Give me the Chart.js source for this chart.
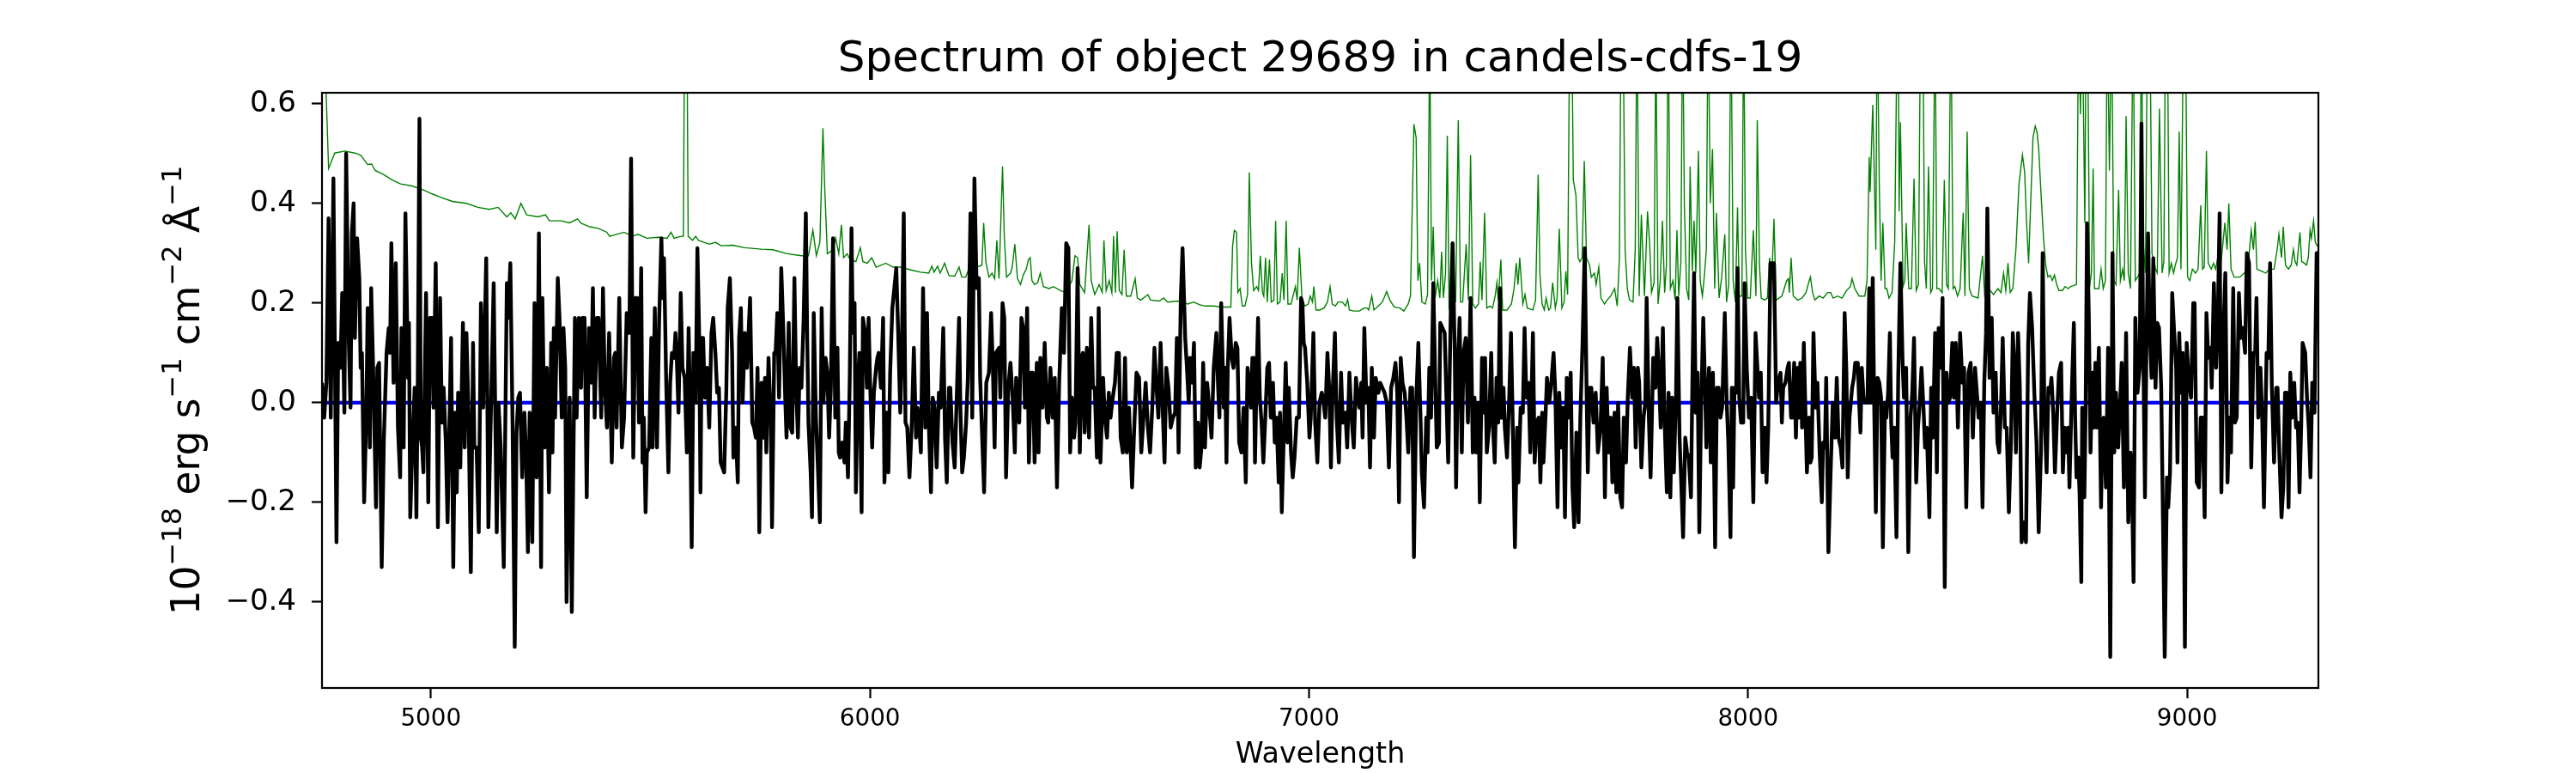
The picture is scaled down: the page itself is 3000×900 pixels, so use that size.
<!DOCTYPE html>
<html>
<head>
<meta charset="utf-8">
<script src="https://cdn.jsdelivr.net/npm/chart.js"></script>
<style>
html, body { margin: 0; padding: 0; background: #fff; }
canvas { display: block; }
</style>
</head>
<body>
<canvas id="chart" width="3000" height="900"></canvas>
<script>
// flux spectrum, [wavelength, 1e-18 erg/s/cm2/A]
const fluxSeg1 = [[4752,0.04],[4757,-0.03],[4762,0.04],[4767,0.37],[4772,-0.03],[4778,0.45],[4785,-0.28],[4789,0.12],[4794,0.07],[4798,0.22],[4803,-0.02],[4807,0.50],[4813,0.12],[4817,-0.01],[4820,0.34],[4824,0.40],[4827,0.13],[4832,0.33],[4837,0.25],[4840,0.07],[4843,0.10],[4848,-0.20],[4853,-0.02],[4856,0.19],[4861,-0.09],[4864,0.23],[4869,0.05],[4875,-0.21],[4878,0.07],[4882,0.08],[4888,-0.33],[4893,-0.07],[4899,0.10],[4904,0.15],[4907,0.10],[4910,0.32],[4915,0.04],[4920,0.28],[4925,-0.05],[4930,-0.15],[4933,0.15],[4938,-0.09],[4942,0.38],[4948,0.05],[4950,0.16],[4953,-0.23],[4957,-0.11],[4963,0.03],[4967,-0.23],[4970,0.03],[4974,0.57],[4977,-0.07],[4980,-0.09],[4983,-0.14],[4989,0.22],[4994,-0.20],[4998,0.17],[5003,0.17],[5006,-0.01],[5011,0.28],[5016,-0.25],[5021,0.21],[5025,-0.04],[5029,0.03],[5034,-0.08],[5038,-0.24],[5046,0.13],[5051,-0.33],[5055,-0.02],[5059,-0.18],[5062,0.02],[5067,-0.13],[5073,0.16],[5077,-0.09],[5081,0.14],[5086,-0.03],[5091,-0.34],[5096,0.12],[5099,-0.09],[5104,-0.09],[5109,-0.26],[5114,0.20],[5119,-0.01],[5126,0.29],[5131,-0.25],[5137,-0.01],[5143,0.24],[5150,-0.26],[5154,0.00],[5159,-0.09],[5166,-0.33],[5173,0.24],[5176,0.17],[5181,0.28],[5186,-0.04],[5191,-0.49],[5195,-0.06],[5199,0.01],[5203,0.02],[5208,-0.15],[5213,-0.02],[5217,-0.11],[5221,-0.30],[5225,-0.02],[5231,-0.28],[5236,0.20],[5241,-0.15],[5246,0.34],[5251,-0.33],[5254,0.21],[5259,-0.09],[5264,0.07],[5269,-0.18],[5274,0.12],[5277,-0.10],[5280,0.15],[5283,-0.03],[5289,0.25],[5293,0.17],[5298,-0.03],[5302,0.15],[5306,0.07],[5309,-0.40],[5316,0.01],[5321,-0.42],[5328,0.17],[5332,-0.03],[5337,0.17],[5342,0.03],[5345,0.17],[5350,0.17],[5355,-0.19],[5360,0.15],[5365,0.04],[5369,0.23],[5373,-0.03],[5378,0.17],[5382,0.17],[5388,-0.03],[5392,0.23],[5396,0.04],[5401,-0.05],[5406,0.14]];
const fluxSeg2 = [[5412,-0.12],[5417,0.09],[5420,0.10],[5423,-0.05],[5429,0.21],[5435,-0.09],[5440,-0.03],[5446,0.18],[5452,0.14],[5456,0.49],[5461,-0.11],[5466,0.21],[5470,0.21],[5474,-0.04],[5479,0.27],[5482,-0.12],[5485,-0.03],[5489,-0.22],[5492,-0.10],[5497,-0.09],[5502,0.13],[5505,-0.09],[5510,0.19],[5515,-0.09],[5520,0.17],[5525,0.33],[5528,0.21],[5531,0.29],[5536,0.04],[5541,-0.14],[5545,0.04],[5549,0.10],[5554,0.09],[5557,0.14],[5560,0.09],[5564,-0.02],[5569,0.22],[5573,0.07],[5578,0.05],[5583,-0.10],[5587,0.15],[5590,0.01],[5594,-0.29],[5598,0.10],[5603,0.00],[5607,0.31],[5611,0.14],[5614,-0.18],[5617,0.13],[5620,0.13],[5624,0.01],[5629,0.07],[5634,-0.05],[5639,0.14],[5643,0.17],[5648,0.10],[5652,0.02],[5656,0.03],[5660,-0.12],[5664,-0.13],[5668,-0.14],[5673,0.03],[5676,0.19],[5681,0.25],[5686,0.10],[5689,-0.11],[5694,-0.05],[5699,-0.16],[5702,0.13],[5706,0.19],[5710,0.00],[5715,0.14],[5720,0.07],[5727,0.21],[5732,-0.04],[5736,-0.05],[5740,-0.07],[5744,0.07],[5748,-0.26],[5753,0.04],[5757,-0.07],[5761,0.05],[5764,-0.10],[5769,0.09],[5774,-0.03],[5777,-0.25],[5782,0.10],[5785,0.10],[5789,0.18],[5793,0.01],[5798,0.27],[5803,0.14],[5807,0.01],[5810,-0.07],[5815,0.16],[5819,-0.05],[5823,-0.06],[5828,0.25],[5832,0.03],[5836,-0.07],[5840,0.07],[5844,0.03],[5849,0.17],[5854,0.38],[5857,0.14],[5860,-0.04],[5865,-0.14],[5868,-0.23],[5872,0.18],[5877,-0.03],[5881,-0.12],[5886,-0.24],[5890,0.19],[5894,0.00],[5899,0.09],[5903,0.06],[5907,-0.07],[5911,0.03],[5916,0.33],[5921,-0.03],[5926,0.11],[5929,-0.10],[5932,-0.11],[5937,-0.08],[5942,-0.12],[5945,-0.04],[5950,-0.15],[5954,0.05],[5958,0.35],[5961,0.14],[5965,0.20],[5968,-0.18],[5972,0.03],[5976,0.10],[5981,-0.22],[5984,0.17],[5989,0.14],[5993,0.03],[5997,0.17],[6000,0.05],[6005,-0.09],[6009,0.02],[6014,0.07],[6017,0.09],[6020,0.10],[6025,0.03],[6030,0.17],[6033,-0.16],[6038,-0.02],[6042,-0.14],[6046,0.06],[6051,0.19]];
const fluxSeg3 = [[6060,0.27],[6064,0.15],[6069,-0.02],[6072,0.07],[6077,0.38],[6081,-0.04],[6085,-0.05],[6090,-0.15],[6095,-0.05],[6100,0.11],[6105,-0.07],[6108,-0.01],[6111,-0.03],[6116,-0.10],[6121,0.23],[6126,-0.05],[6130,0.18],[6134,-0.04],[6139,-0.18],[6143,0.01],[6147,-0.01],[6152,-0.13],[6157,0.02],[6161,-0.01],[6167,0.15],[6171,-0.07],[6175,-0.16],[6180,0.03],[6183,0.03],[6188,-0.08],[6193,-0.13],[6197,-0.01],[6203,0.17],[6206,-0.01],[6210,-0.14],[6214,-0.11],[6219,-0.04],[6223,0.05],[6229,0.38],[6233,-0.03],[6238,0.45],[6243,0.23],[6248,0.25],[6251,0.05],[6256,-0.08],[6260,-0.18],[6265,0.04],[6271,0.06],[6276,0.18],[6280,0.07],[6284,-0.09],[6287,0.10],[6294,0.11],[6297,0.01],[6302,0.20],[6306,0.17],[6310,-0.15],[6315,0.03],[6320,0.08],[6325,0.01],[6330,-0.10],[6333,0.05],[6336,-0.01],[6340,-0.04],[6345,0.17],[6349,0.15],[6353,-0.01],[6358,0.19],[6362,-0.12],[6367,0.06],[6371,0.06],[6375,-0.12],[6380,0.08],[6384,-0.10],[6388,0.09],[6393,-0.01],[6398,0.12],[6403,-0.03],[6406,-0.04],[6411,0.07],[6416,-0.03],[6421,0.05],[6426,-0.17],[6431,0.04],[6437,0.19],[6442,0.10],[6447,0.32],[6452,0.31],[6456,-0.10],[6460,0.01],[6465,-0.07],[6468,-0.04],[6473,0.27],[6478,-0.10],[6482,0.09],[6485,0.10],[6489,-0.06],[6494,0.11],[6499,-0.07],[6504,0.17],[6508,0.03],[6512,0.03],[6517,-0.11],[6521,0.19],[6525,-0.12],[6531,0.05],[6535,-0.03],[6540,-0.07],[6544,0.02],[6548,-0.03],[6553,0.01],[6558,0.04],[6562,0.10],[6567,0.10],[6571,-0.07],[6576,-0.10],[6581,0.09],[6585,-0.10],[6590,-0.01],[6597,-0.17],[6602,-0.05],[6607,0.06],[6613,0.05],[6618,-0.10],[6623,-0.03],[6628,0.04],[6633,-0.05],[6638,-0.10],[6643,-0.01],[6648,0.11],[6652,0.04],[6657,-0.03],[6662,0.12],[6667,-0.02],[6671,-0.12],[6675,0.07],[6680,0.03],[6685,-0.05],[6690,-0.03],[6695,-0.02],[6699,0.13],[6703,-0.10],[6708,0.21]];
const fluxSeg4 = [[6712,0.31],[6718,0.13],[6722,0.07],[6726,0.00],[6729,0.09],[6734,0.04],[6738,0.12],[6742,-0.13],[6747,-0.04],[6751,-0.13],[6755,-0.09],[6759,0.08],[6763,-0.09],[6768,0.04],[6773,-0.01],[6778,-0.07],[6783,0.07],[6789,0.14],[6793,0.03],[6796,-0.03],[6800,0.20],[6806,-0.01],[6809,0.07],[6812,-0.12],[6815,0.07],[6819,0.17],[6824,0.09],[6828,0.07],[6833,0.12],[6837,0.11],[6841,-0.08],[6846,-0.10],[6851,-0.01],[6856,-0.16],[6860,0.07],[6864,0.04],[6868,-0.01],[6871,0.09],[6874,0.09],[6877,-0.12],[6881,0.07],[6884,0.17],[6888,0.01],[6892,-0.04],[6896,-0.12],[6900,-0.04],[6905,0.07],[6909,0.08],[6913,-0.03],[6918,0.04],[6922,-0.08],[6926,-0.03],[6931,-0.16],[6934,-0.02],[6938,-0.22],[6943,-0.05],[6947,0.08],[6951,-0.08],[6954,0.03],[6959,-0.10],[6963,-0.15],[6967,-0.11],[6972,-0.03],[6977,-0.03],[6982,0.21],[6985,0.20],[6988,0.12],[6991,0.11],[6996,0.04],[7001,-0.07],[7004,-0.03],[7010,0.14],[7014,-0.04],[7019,-0.12],[7024,0.00],[7029,0.02],[7032,0.01],[7037,-0.03],[7042,0.10],[7046,0.03],[7050,-0.13],[7053,0.00],[7059,0.14],[7063,-0.03],[7068,-0.12],[7073,0.06],[7077,-0.04],[7083,-0.02],[7087,-0.09],[7092,0.06],[7097,-0.03],[7102,-0.09],[7107,0.05],[7111,0.01],[7115,-0.01],[7119,0.04],[7122,-0.07],[7126,0.15],[7131,0.00],[7135,0.03],[7139,-0.13],[7143,0.07],[7148,-0.07],[7152,0.05],[7158,0.02],[7162,0.04],[7167,0.03],[7172,0.02],[7177,0.00],[7182,-0.13],[7187,0.03],[7192,0.05],[7197,0.08],[7201,0.02],[7205,-0.20],[7209,0.09],[7213,0.04],[7218,0.02],[7222,-0.03],[7226,-0.10],[7231,0.03],[7235,0.03],[7239,-0.31],[7244,0.00],[7249,0.12],[7254,-0.03],[7257,-0.14],[7262,-0.21],[7267,-0.03],[7270,-0.10],[7274,0.07],[7278,-0.03],[7283,0.24],[7287,0.07],[7291,-0.09],[7296,-0.08],[7299,0.16],[7304,0.15],[7309,0.14],[7313,0.01],[7317,-0.12],[7323,0.19],[7327,0.32],[7332,0.10],[7335,-0.17],[7339,0.07],[7343,0.17],[7348,-0.10],[7352,0.10],[7357,0.13],[7362,-0.04]];
const fluxSeg5 = [[7368,0.21],[7373,-0.10],[7377,0.01],[7381,-0.10],[7386,0.00],[7389,-0.20],[7394,0.09],[7398,-0.02],[7401,0.09],[7405,-0.10],[7410,-0.05],[7415,0.10],[7418,-0.03],[7423,-0.12],[7427,0.05],[7431,-0.04],[7435,0.23],[7438,-0.03],[7443,0.03],[7446,-0.05],[7451,-0.11],[7456,0.01],[7460,0.14],[7464,-0.04],[7469,-0.29],[7474,-0.05],[7477,-0.16],[7482,-0.01],[7487,-0.02],[7491,0.15],[7495,0.01],[7500,0.04],[7504,-0.10],[7510,0.14],[7514,-0.12],[7518,-0.04],[7523,-0.03],[7527,-0.16],[7531,-0.02],[7534,-0.12],[7539,-0.02],[7542,0.05],[7547,0.00],[7551,0.03],[7557,0.10],[7561,0.02],[7566,-0.21],[7570,0.02],[7575,-0.09],[7579,-0.01],[7583,-0.23],[7587,0.05],[7591,-0.03],[7596,0.06],[7600,-0.17],[7604,-0.25],[7609,-0.06],[7614,-0.24],[7618,-0.03],[7623,0.12],[7628,0.31],[7632,0.04],[7635,-0.14],[7639,0.03],[7643,0.03],[7648,-0.04],[7653,0.02],[7658,-0.10],[7664,-0.05],[7669,0.09],[7674,-0.19],[7678,0.03],[7682,-0.10],[7687,-0.03],[7691,-0.16],[7696,-0.02],[7700,-0.18],[7704,0.00],[7709,-0.19],[7713,-0.21],[7717,-0.03],[7722,-0.12],[7726,0.01],[7731,0.11],[7736,0.01],[7740,0.07],[7744,-0.09],[7749,0.07],[7752,0.04],[7757,-0.13],[7762,-0.03],[7766,0.00],[7769,0.21],[7774,-0.03],[7778,-0.15],[7784,0.09],[7789,0.03],[7793,0.13],[7797,0.06],[7801,-0.05],[7806,0.15],[7810,-0.04],[7815,-0.18],[7819,0.02],[7823,-0.19],[7827,0.01],[7831,-0.14],[7836,0.02],[7839,0.21],[7844,-0.07],[7847,-0.14],[7852,-0.27],[7857,-0.07],[7861,-0.10],[7865,-0.11],[7870,-0.19],[7873,0.03],[7877,0.26],[7881,-0.02],[7885,0.06],[7889,-0.26],[7893,-0.01],[7898,0.17],[7902,0.03],[7905,-0.09],[7911,0.07],[7915,-0.12],[7920,0.06],[7925,-0.29],[7929,0.03],[7933,0.03],[7937,-0.03],[7941,-0.01],[7947,0.18],[7951,0.01],[7955,-0.08],[7960,-0.27],[7963,0.03],[7966,-0.17],[7969,0.03],[7973,0.02],[7976,0.27],[7980,0.01],[7984,-0.04],[7989,-0.04],[7992,0.24],[7997,0.07],[8002,-0.03],[8007,0.01],[8012,-0.20],[8017,0.14]];
const fluxSeg6 = [[8025,0.01],[8029,0.06],[8033,-0.14],[8038,-0.05],[8042,-0.16],[8046,-0.05],[8051,0.28],[8055,0.28],[8059,0.28],[8064,0.00],[8068,0.04],[8074,0.06],[8077,-0.04],[8080,0.03],[8085,0.04],[8090,0.07],[8093,0.08],[8098,-0.03],[8101,-0.03],[8105,0.08],[8109,-0.07],[8113,0.07],[8116,-0.03],[8119,0.08],[8123,-0.05],[8127,0.12],[8131,-0.03],[8134,-0.14],[8139,-0.03],[8142,-0.12],[8145,-0.11],[8149,0.14],[8154,-0.01],[8158,0.04],[8163,-0.10],[8168,-0.20],[8171,-0.08],[8175,-0.09],[8178,0.05],[8183,-0.30],[8188,-0.14],[8193,0.00],[8198,-0.07],[8202,0.05],[8206,-0.07],[8211,-0.09],[8215,-0.13],[8220,0.18],[8224,0.06],[8227,-0.15],[8231,-0.03],[8237,0.03],[8241,0.05],[8244,0.08],[8250,0.08],[8253,0.00],[8256,-0.06],[8259,0.07],[8263,0.01],[8267,0.00],[8272,0.00],[8276,0.23],[8280,0.00],[8284,0.25],[8287,0.01],[8291,-0.22],[8295,0.05],[8299,0.04],[8303,0.01],[8307,-0.29],[8312,0.00],[8315,-0.03],[8319,0.02],[8323,0.14],[8326,-0.04],[8329,-0.11],[8333,-0.05],[8338,-0.27],[8342,0.05],[8347,0.28],[8352,0.08],[8355,0.01],[8360,0.07],[8365,-0.30],[8370,-0.03],[8374,0.02],[8378,0.13],[8383,-0.16],[8387,-0.05],[8391,0.00],[8395,0.07],[8400,-0.02],[8403,-0.09],[8407,-0.05],[8413,-0.23],[8417,0.03],[8421,-0.07],[8426,0.14],[8430,-0.14],[8434,0.15],[8439,0.07],[8443,0.21],[8448,-0.37],[8452,0.06],[8456,0.00],[8460,0.01],[8465,0.12],[8469,0.01],[8473,0.12],[8478,-0.05],[8483,0.14],[8488,0.04],[8492,0.07],[8497,-0.21],[8502,0.06],[8507,0.08],[8512,-0.07],[8517,0.07],[8522,0.01],[8525,-0.03],[8530,0.00],[8534,-0.21],[8538,0.04],[8542,0.14],[8545,0.39],[8550,0.05],[8555,0.17],[8559,-0.02],[8564,0.06],[8568,-0.08],[8572,-0.10],[8576,-0.01],[8580,0.13],[8585,-0.05],[8589,-0.05],[8594,-0.22],[8599,-0.07],[8603,0.14],[8607,0.07],[8610,-0.10],[8615,0.14],[8619,0.03],[8623,-0.28],[8628,-0.24],[8633,-0.28],[8638,0.12],[8642,0.22],[8647,0.15],[8652,0.02],[8657,-0.08],[8662,-0.26],[8667,-0.10],[8671,0.30]];
const fluxSeg7 = [[8675,-0.02],[8680,-0.14],[8684,0.03],[8688,0.02],[8691,0.05],[8695,-0.02],[8699,-0.14],[8704,-0.02],[8708,0.06],[8713,0.08],[8717,-0.14],[8721,-0.05],[8726,-0.10],[8729,-0.05],[8732,-0.17],[8737,0.01],[8742,0.16],[8745,-0.03],[8748,-0.15],[8752,-0.11],[8755,-0.18],[8759,-0.36],[8761,-0.01],[8766,-0.19],[8769,0.00],[8772,0.36],[8776,0.18],[8780,-0.10],[8784,0.06],[8787,-0.05],[8791,0.08],[8794,-0.05],[8799,0.11],[8804,-0.21],[8807,-0.04],[8810,-0.03],[8815,-0.17],[8820,0.11],[8825,-0.51],[8830,0.30],[8834,-0.10],[8838,0.02],[8843,-0.09],[8846,-0.03],[8851,0.08],[8856,-0.17],[8861,0.14],[8866,-0.24],[8871,-0.10],[8874,-0.15],[8878,-0.36],[8882,0.17],[8887,0.02],[8892,0.07],[8896,0.56],[8900,0.12],[8904,-0.19],[8907,0.09],[8911,0.34],[8915,0.14],[8919,0.05],[8923,0.29],[8928,0.03],[8932,0.16],[8936,0.15],[8941,0.03],[8944,-0.17],[8949,-0.51],[8954,-0.15],[8957,-0.21],[8961,-0.14],[8966,0.22],[8970,0.15],[8975,0.07],[8978,-0.12],[8982,0.14],[8986,0.02],[8990,0.10],[8995,-0.49],[8999,0.12],[9004,0.04],[9009,0.01],[9014,0.20],[9017,0.20],[9022,-0.16],[9027,-0.17],[9031,-0.03],[9035,-0.03],[9040,-0.23],[9044,0.18],[9048,0.09],[9053,0.11],[9056,0.03],[9061,0.24],[9066,0.07],[9070,0.17],[9074,0.38],[9078,-0.18],[9083,0.15],[9087,0.26],[9092,-0.16],[9096,-0.03],[9100,-0.10],[9105,0.23],[9109,-0.04],[9113,-0.03],[9118,0.22],[9122,0.13],[9127,0.15],[9132,0.10],[9136,0.30],[9141,0.28],[9146,-0.13],[9151,0.10],[9155,0.10],[9158,0.21],[9162,-0.03],[9167,0.07],[9171,-0.03],[9175,-0.21],[9181,0.10],[9185,0.09],[9189,0.28],[9193,0.03],[9198,-0.12],[9203,0.03],[9206,0.03],[9210,-0.10],[9215,-0.23],[9219,-0.17],[9223,0.02],[9227,0.02],[9231,-0.21],[9235,0.06],[9239,-0.03],[9244,0.04],[9248,-0.05],[9252,-0.04],[9256,-0.18],[9260,-0.04],[9263,0.12],[9269,0.10],[9273,0.01],[9277,-0.05],[9281,-0.15],[9285,0.04],[9290,-0.02],[9295,0.30],[9299,0.30]];

// noise (green) spectrum; sky-line peaks above the frame are clipped
const noiseSeg1 = [[4752,0.75],[4760,0.66],[4767,0.470],[4781,0.501],[4804,0.505],[4827,0.501],[4840,0.497],[4856,0.478],[4865,0.479],[4873,0.466],[4892,0.458],[4912,0.447],[4931,0.439],[4957,0.435],[4983,0.427],[5003,0.419],[5023,0.412],[5049,0.404],[5081,0.400],[5107,0.392],[5133,0.388],[5153,0.392],[5173,0.373],[5182,0.381],[5192,0.369],[5205,0.400],[5218,0.377],[5244,0.373],[5261,0.377],[5270,0.365],[5296,0.365],[5316,0.361],[5334,0.369],[5342,0.360],[5362,0.353],[5381,0.350],[5401,0.342]];
const noiseSeg2 = [[5407,0.334],[5440,0.342],[5459,0.334],[5472,0.338],[5492,0.330],[5518,0.332],[5538,0.330],[5547,0.342],[5554,0.330],[5570,0.334],[5575,0.334],[5578,0.8],[5583,0.8],[5586,0.334],[5596,0.326],[5603,0.334],[5609,0.326],[5622,0.322],[5635,0.318],[5648,0.322],[5661,0.315],[5688,0.316],[5714,0.311],[5753,0.308],[5779,0.307],[5811,0.299],[5844,0.295],[5860,0.295],[5870,0.346],[5878,0.295],[5886,0.322],[5893,0.551],[5897,0.431],[5903,0.299],[5916,0.307],[5922,0.330],[5929,0.299],[5935,0.357],[5940,0.291],[5948,0.299],[5955,0.287],[5968,0.283],[5978,0.311],[5984,0.283],[5994,0.280],[6004,0.291],[6014,0.272],[6036,0.280],[6053,0.272]];
const noiseSeg3 = [[6069,0.272],[6095,0.266],[6115,0.262],[6134,0.260],[6141,0.274],[6146,0.262],[6154,0.274],[6160,0.260],[6170,0.280],[6180,0.255],[6193,0.254],[6203,0.272],[6209,0.252],[6218,0.252],[6225,0.268],[6238,0.270],[6255,0.276],[6259,0.361],[6264,0.283],[6271,0.252],[6278,0.260],[6284,0.249],[6289,0.326],[6294,0.249],[6302,0.474],[6306,0.334],[6311,0.252],[6320,0.260],[6324,0.272],[6330,0.318],[6336,0.249],[6343,0.237],[6349,0.256],[6356,0.268],[6361,0.287],[6365,0.291],[6369,0.245],[6375,0.237],[6382,0.241],[6388,0.260],[6395,0.233],[6408,0.229],[6418,0.233],[6434,0.225],[6447,0.221],[6460,0.245],[6467,0.295],[6473,0.291],[6478,0.237],[6489,0.221],[6499,0.357],[6504,0.245],[6512,0.217],[6522,0.237],[6529,0.221],[6533,0.326],[6538,0.225],[6545,0.245],[6551,0.221],[6555,0.334],[6559,0.221],[6563,0.344],[6568,0.225],[6574,0.217],[6579,0.307],[6584,0.214],[6594,0.214],[6604,0.249],[6609,0.210],[6617,0.206],[6633,0.217],[6639,0.206],[6659,0.204],[6669,0.210],[6678,0.202],[6701,0.204]];
const noiseSeg4 = [[6711,0.202],[6724,0.198],[6737,0.202],[6750,0.197],[6763,0.194],[6783,0.194],[6799,0.192],[6822,0.192],[6826,0.315],[6830,0.346],[6835,0.342],[6838,0.221],[6843,0.229],[6848,0.194],[6854,0.194],[6860,0.217],[6864,0.462],[6869,0.280],[6874,0.225],[6881,0.233],[6885,0.225],[6889,0.295],[6894,0.221],[6897,0.214],[6901,0.291],[6905,0.202],[6910,0.287],[6914,0.202],[6920,0.206],[6924,0.365],[6928,0.198],[6934,0.202],[6939,0.260],[6943,0.206],[6948,0.365],[6952,0.198],[6959,0.198],[6969,0.233],[6973,0.206],[6978,0.311],[6984,0.210],[6990,0.194],[6998,0.198],[7003,0.214],[7008,0.202],[7011,0.233],[7016,0.186],[7024,0.186],[7034,0.190],[7042,0.202],[7048,0.233],[7053,0.198],[7060,0.194],[7066,0.202],[7076,0.202],[7083,0.194],[7088,0.207],[7092,0.186],[7102,0.184],[7115,0.184],[7125,0.190],[7132,0.190],[7136,0.186],[7143,0.214],[7148,0.186],[7158,0.194],[7167,0.202],[7177,0.223],[7184,0.206],[7194,0.192],[7207,0.190],[7216,0.184],[7226,0.198],[7231,0.214],[7239,0.559],[7244,0.532],[7248,0.245],[7252,0.280],[7257,0.202],[7265,0.198],[7270,0.217],[7275,0.75],[7279,0.245],[7283,0.353],[7287,0.210],[7293,0.245],[7298,0.210],[7302,0.303],[7306,0.210],[7311,0.260],[7315,0.536],[7319,0.190],[7324,0.198],[7334,0.202],[7340,0.567],[7345,0.202],[7350,0.202],[7358,0.318],[7363,0.206]];
const noiseSeg5 = [[7368,0.497],[7373,0.198],[7379,0.190],[7386,0.198],[7390,0.283],[7394,0.206],[7400,0.381],[7405,0.190],[7412,0.194],[7418,0.190],[7424,0.214],[7428,0.241],[7431,0.206],[7437,0.287],[7441,0.186],[7451,0.186],[7461,0.198],[7467,0.229],[7472,0.280],[7476,0.237],[7480,0.291],[7487,0.198],[7492,0.217],[7497,0.190],[7510,0.186],[7516,0.206],[7522,0.458],[7526,0.256],[7531,0.198],[7536,0.186],[7540,0.210],[7546,0.186],[7550,0.190],[7555,0.241],[7561,0.190],[7565,0.210],[7570,0.349],[7576,0.190],[7581,0.202],[7585,0.264],[7589,0.217],[7594,0.8],[7598,0.8],[7602,0.447],[7608,0.416],[7613,0.291],[7617,0.283],[7622,0.291],[7627,0.485],[7632,0.291],[7639,0.276],[7643,0.252],[7650,0.260],[7654,0.237],[7660,0.272],[7665,0.210],[7673,0.198],[7679,0.206],[7687,0.214],[7696,0.229],[7702,0.194],[7707,0.291],[7711,0.8],[7715,0.8],[7720,0.307],[7725,0.229],[7730,0.206],[7738,0.202],[7743,0.307],[7747,0.8],[7752,0.214],[7757,0.377],[7764,0.214],[7771,0.384],[7776,0.318],[7780,0.221],[7786,0.241],[7790,0.75],[7795,0.198],[7800,0.245],[7805,0.365],[7810,0.221],[7814,0.276],[7818,0.8],[7823,0.229],[7829,0.245],[7834,0.206],[7838,0.346],[7842,0.214],[7847,0.283],[7851,0.8],[7855,0.392],[7860,0.229],[7865,0.206],[7868,0.474],[7873,0.264],[7877,0.365],[7881,0.260],[7887,0.505],[7891,0.245],[7896,0.214],[7901,0.260],[7905,0.307],[7909,0.8],[7914,0.400],[7919,0.509],[7924,0.229],[7928,0.381],[7934,0.210],[7940,0.252],[7947,0.338],[7951,0.202],[7956,0.237],[7961,0.8],[7966,0.245],[7971,0.202],[7976,0.392],[7980,0.214],[7986,0.214],[7990,0.8],[7994,0.307],[7999,0.210],[8005,0.210],[8012,0.346],[8018,0.214]];
const noiseSeg6 = [[8021,0.567],[8026,0.276],[8030,0.210],[8038,0.206],[8044,0.210],[8049,0.291],[8054,0.245],[8059,0.369],[8064,0.206],[8077,0.214],[8088,0.245],[8092,0.249],[8094,0.221],[8098,0.291],[8103,0.214],[8113,0.206],[8123,0.210],[8132,0.221],[8138,0.241],[8142,0.252],[8147,0.221],[8152,0.206],[8162,0.214],[8171,0.210],[8181,0.221],[8188,0.221],[8194,0.210],[8204,0.214],[8214,0.210],[8224,0.225],[8233,0.233],[8237,0.249],[8243,0.229],[8253,0.214],[8266,0.214],[8271,0.245],[8276,0.493],[8278,0.423],[8284,0.598],[8287,0.478],[8291,0.307],[8294,0.8],[8299,0.431],[8303,0.245],[8307,0.361],[8312,0.229],[8316,0.229],[8321,0.210],[8328,0.221],[8334,0.322],[8340,0.8],[8342,0.8],[8344,0.384],[8347,0.563],[8353,0.233],[8357,0.245],[8360,0.361],[8366,0.229],[8372,0.229],[8378,0.450],[8383,0.225],[8388,0.237],[8393,0.8],[8398,0.8],[8402,0.283],[8406,0.229],[8411,0.474],[8416,0.221],[8420,0.229],[8426,0.8],[8430,0.229],[8435,0.229],[8442,0.221],[8447,0.447],[8452,0.237],[8456,0.229],[8462,0.8],[8467,0.229],[8471,0.233],[8477,0.214],[8483,0.229],[8490,0.381],[8494,0.214],[8499,0.544],[8504,0.229],[8510,0.214],[8524,0.210],[8534,0.295],[8539,0.214],[8548,0.229],[8559,0.217],[8569,0.229],[8576,0.221],[8582,0.260],[8587,0.225],[8592,0.280],[8597,0.221],[8603,0.229],[8610,0.307],[8617,0.439],[8625,0.497],[8630,0.462],[8634,0.369],[8639,0.280],[8644,0.408],[8649,0.532],[8654,0.555],[8658,0.544],[8662,0.509],[8667,0.423],[8673,0.330]];
const noiseSeg7 = [[8678,0.276],[8683,0.252],[8688,0.256],[8693,0.245],[8698,0.256],[8703,0.237],[8708,0.225],[8716,0.225],[8722,0.233],[8729,0.229],[8735,0.233],[8748,0.237],[8753,0.8],[8757,0.579],[8761,0.8],[8767,0.361],[8770,0.8],[8773,0.8],[8778,0.233],[8782,0.260],[8786,0.470],[8789,0.229],[8799,0.229],[8804,0.268],[8809,0.229],[8814,0.245],[8818,0.8],[8823,0.466],[8828,0.8],[8833,0.245],[8838,0.237],[8844,0.427],[8848,0.245],[8853,0.268],[8857,0.245],[8861,0.575],[8866,0.260],[8871,0.229],[8877,0.8],[8882,0.245],[8887,0.252],[8892,0.260],[8896,0.8],[8900,0.322],[8905,0.260],[8910,0.8],[8915,0.8],[8920,0.299],[8924,0.287],[8928,0.268],[8932,0.260],[8937,0.590],[8943,0.260],[8947,0.283],[8951,0.8],[8955,0.8],[8959,0.260],[8964,0.280],[8969,0.260],[8973,0.276],[8978,0.291],[8982,0.544],[8986,0.268],[8992,0.8],[8996,0.8],[9001,0.252],[9006,0.245],[9012,0.268],[9019,0.260],[9025,0.268],[9031,0.396],[9035,0.268],[9039,0.272],[9044,0.505],[9048,0.280],[9055,0.268],[9060,0.280],[9065,0.268],[9068,0.283],[9074,0.256],[9081,0.315],[9086,0.361],[9091,0.307],[9095,0.400],[9100,0.268],[9107,0.252],[9120,0.252],[9130,0.260],[9138,0.268],[9146,0.346],[9151,0.307],[9155,0.363],[9159,0.268],[9169,0.264],[9179,0.260],[9188,0.268],[9198,0.268],[9205,0.307],[9209,0.338],[9215,0.291],[9219,0.353],[9224,0.276],[9231,0.268],[9237,0.276],[9242,0.307],[9246,0.283],[9250,0.276],[9257,0.342],[9261,0.283],[9267,0.280],[9272,0.276],[9276,0.291],[9280,0.346],[9283,0.330],[9288,0.365],[9292,0.322],[9296,0.315],[9299,0.315]];

// zero level
const zeroWave = [4752, 9299];
const zeroFlux = [0, 0];

const xTicks = [5000, 6000, 7000, 8000, 9000];
const yTicks = [-0.4, -0.2, 0.0, 0.2, 0.4, 0.6];
const xRange = [4752, 9299];
const yRange = [-0.5725, 0.622];

const titleText = "Spectrum of object 29689 in candels-cdfs-19";
const xLabel = "Wavelength";

const FONT = '"DejaVu Sans"';

function toXY(segs) {
  const out = [];
  segs.forEach(s => s.forEach(p => out.push({x: p[0], y: p[1]})));
  return out;
}

const fluxData = toXY([fluxSeg1, fluxSeg2, fluxSeg3, fluxSeg4, fluxSeg5, fluxSeg6, fluxSeg7]);
const noiseData = toXY([noiseSeg1, noiseSeg2, noiseSeg3, noiseSeg4, noiseSeg5, noiseSeg6, noiseSeg7]);
const zeroData = zeroWave.map((w, i) => ({x: w, y: zeroFlux[i]}));

const frameAndText = {
  id: 'frameAndText',
  afterDatasetsDraw(chart) {
    const {ctx, chartArea: a} = chart;
    ctx.save();
    ctx.strokeStyle = '#000';
    ctx.lineWidth = 2.2;
    ctx.strokeRect(a.left, a.top, a.right - a.left, a.bottom - a.top);
    ctx.restore();
  },
  afterDraw(chart) {
    const {ctx, chartArea: a} = chart;
    const cx = (a.left + a.right) / 2;
    ctx.save();
    ctx.fillStyle = '#000';
    ctx.textAlign = 'center';
    ctx.textBaseline = 'alphabetic';
    ctx.font = '50px ' + FONT;
    ctx.fillText(titleText, cx, 83);
    ctx.font = '33.3px ' + FONT;
    ctx.fillText(xLabel, cx, 888);

    // y label with superscripts, rotated
    const parts = [['10', 0], ['\u221218', 1], [' erg s', 0], ['\u22121', 1],
                   [' cm', 0], ['\u22122', 1], [' \u00c5', 0], ['\u22121', 1]];
    const base = 45.5, sup = 32;
    let total = 0;
    parts.forEach(p => {
      ctx.font = (p[1] ? sup : base) + 'px ' + FONT;
      total += ctx.measureText(p[0]).width;
    });
    ctx.translate(232, (a.top + a.bottom) / 2);
    ctx.rotate(-Math.PI / 2);
    ctx.textAlign = 'left';
    let x = -total / 2;
    parts.forEach(p => {
      ctx.font = (p[1] ? sup : base) + 'px ' + FONT;
      ctx.fillText(p[0], x, p[1] ? -21 : 0);
      x += ctx.measureText(p[0]).width;
    });
    ctx.restore();
  }
};

new Chart(document.getElementById('chart'), {
  type: 'line',
  data: {
    datasets: [
      {
        label: 'flux',
        data: fluxData,
        borderColor: '#000000',
        borderWidth: 4.4,
        borderJoinStyle: 'round',
        pointRadius: 0,
        tension: 0
      },
      {
        label: 'zero',
        data: zeroData,
        borderColor: '#0000ff',
        borderWidth: 4.4,
        pointRadius: 0,
        tension: 0
      },
      {
        label: 'noise',
        data: noiseData,
        borderColor: '#008000',
        borderWidth: 1.4,
        pointRadius: 0,
        tension: 0
      }
    ]
  },
  options: {
    responsive: false,
    animation: false,
    devicePixelRatio: 1,
    events: [],
    layout: { padding: { top: 108, right: 300, left: 0, bottom: 0 } },
    plugins: { legend: { display: false }, tooltip: { enabled: false }, title: { display: false } },
    scales: {
      x: {
        type: 'linear',
        min: xRange[0],
        max: xRange[1],
        afterBuildTicks: s => { s.ticks = xTicks.map(v => ({value: v})); },
        afterFit: s => { s.height = 99; },
        grid: { drawOnChartArea: false, drawTicks: true, tickLength: 12, tickColor: '#000', tickWidth: 2.2 },
        border: { display: false },
        ticks: {
          autoSkip: false, maxRotation: 0, padding: 8, color: '#000',
          font: { family: FONT, size: 27.8 },
          callback: v => String(v)
        }
      },
      y: {
        type: 'linear',
        min: yRange[0],
        max: yRange[1],
        afterBuildTicks: s => { s.ticks = yTicks.map(v => ({value: v})); },
        afterFit: s => { s.width = 375; },
        grid: { drawOnChartArea: false, drawTicks: true, tickLength: 12, tickColor: '#000', tickWidth: 2.2 },
        border: { display: false },
        ticks: {
          autoSkip: false, padding: 18, color: '#000',
          font: { family: FONT, size: 34 },
          callback: v => (v < 0 ? '\u2212' : '') + Math.abs(v).toFixed(1)
        }
      }
    }
  },
  plugins: [frameAndText]
});
</script>
</body>
</html>
